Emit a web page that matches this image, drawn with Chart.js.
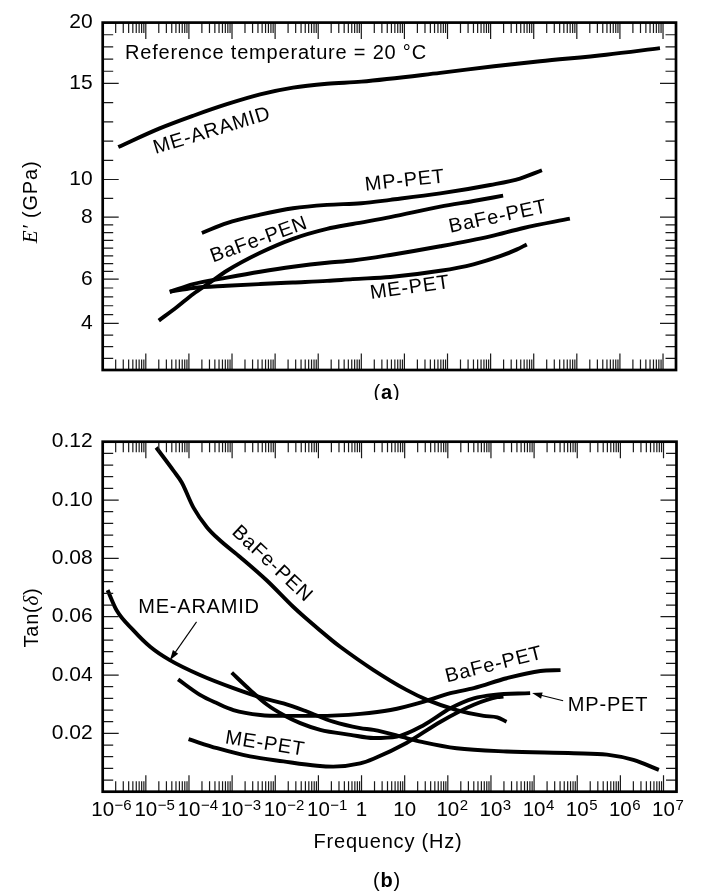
<!DOCTYPE html>
<html><head><meta charset="utf-8">
<script src="https://cdn.jsdelivr.net/npm/chart.js@4.4.1/dist/chart.umd.min.js"></script>
<style>
html,body{margin:0;padding:0;background:#fff;}
#wrap{position:relative;width:704px;height:891px;overflow:hidden;}
canvas{position:absolute;left:0;}
#cTop{top:0;}
#cBot{top:400px;}
</style></head><body>
<div id="wrap"><canvas id="cTop" width="704" height="400"></canvas><canvas id="cBot" width="704" height="491"></canvas></div>
<script>
// ---------------- data ----------------
const F_TICKS = [1e-6,1e-5,1e-4,1e-3,1e-2,1e-1,1,10,1e2,1e3,1e4,1e5,1e6,1e7];
const F_TICK_BASE = ['10','10','10','10','10','10','1','10','10','10','10','10','10','10'];
const F_TICK_EXP  = ['−6','−5','−4','−3','−2','−1','','','2','3','4','5','6','7'];
const E_TICKS = [4,6,8,10,15,20];
const E_MINOR = [2.5,3,3.5,4.4,4.8,5.2,5.6,6.25,6.5,6.75,7,7.25,7.5,7.75,9,11,12,13,14,16,17,18,19];
const TAN_TICKS = [0.02,0.04,0.06,0.08,0.10,0.12];
const TAN_MINOR = [0.004,0.008,0.012,0.016,0.024,0.028,0.032,0.036,0.044,0.048,0.052,0.056,0.064,0.068,0.072,0.076,0.084,0.088,0.092,0.096,0.104,0.108,0.112,0.116];

// (a) storage modulus E' (GPa)
const E_ME_ARAMID_F = [2.3e-6,2.1e-5,1.26e-4,7.6e-4,4.5e-3,0.026,0.16,1,68,1.2e3,1.4e4,4.8e5,8.5e6];
const E_ME_ARAMID   = [11.69,12.66,13.32,13.92,14.43,14.78,14.98,15.15,15.87,16.41,16.82,17.36,17.9];
const E_MP_PET_F = [2.0e-4,7.6e-4,4.5e-3,0.026,0.16,1,4.7,68,980,4.8e3,1.55e4];
const E_MP_PET   = [7.49,7.81,8.13,8.47,8.65,8.74,8.92,9.26,9.71,10.05,10.48];
const E_BAFE_PEN_F = [2.0e-5,5.2e-5,1.26e-4,3.1e-4,7.6e-4,4.5e-3,0.026,0.16,0.63,4.7,68,400,1.95e3];
const E_BAFE_PEN   = [4.13,4.73,5.33,5.85,6.27,6.85,7.30,7.62,7.78,8.0,8.56,8.86,9.14];
const E_BAFE_PET_F = [3.6e-5,1.26e-4,7.6e-4,4.5e-3,0.026,0.16,0.63,4.7,68,980,5.8e3,6.9e4];
const E_BAFE_PET   = [5.43,5.78,6.05,6.24,6.40,6.53,6.60,6.78,7.06,7.38,7.65,7.95];
const E_ME_PET_F = [3.6e-5,1.26e-4,7.6e-4,4.5e-3,0.026,0.16,0.63,4.7,68,400,1.66e3,4.1e3,6.9e3];
const E_ME_PET   = [5.43,5.60,5.70,5.78,5.85,5.92,6.0,6.07,6.27,6.48,6.74,6.96,7.12];

// (b) loss tangent tan(delta)
const T_BAFE_PEN_F = [1.74e-5,4.4e-5,6.8e-5,1.26e-4,2.6e-4,5.2e-4,1.55e-3,6.3e-3,0.026,0.049,0.21,0.32,1.9,11,33,160,680,1.4e3,2.3e3];
const T_BAFE_PEN   = [0.118,0.110,0.106,0.0975,0.0907,0.0862,0.0804,0.0725,0.0634,0.0597,0.0518,0.0497,0.0417,0.0349,0.0315,0.028,0.026,0.0255,0.024];
const T_ME_ARAMID_F = [1.3e-6,2.1e-6,5.1e-6,1.26e-5,3.6e-5,1.8e-4,1.07e-3,5.4e-3,0.0155,0.054,0.22,0.93,1.9,11,28,160,2.3e3,8.3e4,4.9e5,2.0e6,7.8e6];
const T_ME_ARAMID   = [0.0691,0.0622,0.0554,0.0497,0.0451,0.040,0.0355,0.0320,0.0303,0.0275,0.0240,0.0218,0.0212,0.0184,0.0169,0.0149,0.0138,0.0132,0.0127,0.0109,0.0075];
const T_BAFE_PET_F = [5.6e-5,1.8e-4,4.5e-4,1.07e-3,4.5e-3,0.0155,0.093,0.93,4.7,28,115,400,2.3e3,1.4e4,4.1e4];
const T_BAFE_PET   = [0.0385,0.0332,0.0303,0.0280,0.0263,0.026,0.026,0.0267,0.0280,0.0309,0.0338,0.0355,0.0389,0.0414,0.0417];
const T_MP_PET_F = [9.8e-4,2.6e-3,6.5e-3,0.0155,0.038,0.11,0.55,1.9,6.6,28,115,400,1.15e3,8.1e3];
const T_MP_PET   = [0.0408,0.0349,0.0298,0.0263,0.0235,0.0212,0.0195,0.0184,0.0189,0.0229,0.0286,0.0320,0.0332,0.0338];
const T_ME_PET_F = [9.8e-5,4.5e-4,2.6e-3,0.0155,0.093,0.22,0.93,1.9,11,68,400,1.4e3,1.95e3];
const T_ME_PET   = [0.0180,0.0149,0.0121,0.0104,0.0089,0.0086,0.0097,0.0113,0.0167,0.0240,0.0298,0.0324,0.0326];

// --------------- axis layout of the redrawn E' axis (value -> fraction of axis height) ---------------
const E_AXIS_FRAC = [[2,0],[4,0.134],[6,0.2615],[8,0.44],[10,0.5483],[15,0.8249],[20,1]];
function eToFrac(v){
  const a = E_AXIS_FRAC;
  let i = 1;
  while (i < a.length - 1 && v > a[i][0]) i++;
  const [v0,f0] = a[i-1], [v1,f1] = a[i];
  return f0 + (v - v0) * (f1 - f0) / (v1 - v0);
}
function fracToE(f){
  const a = E_AXIS_FRAC;
  let i = 1;
  while (i < a.length - 1 && f > a[i][1]) i++;
  const [v0,f0] = a[i-1], [v1,f1] = a[i];
  return v0 + (f - f0) * (v1 - v0) / (f1 - f0);
}
class PiecewiseScale extends Chart.LinearScale {
  static id = 'piecewise';
  getPixelForValue(value){
    if (value === null || value === undefined || isNaN(value)) return NaN;
    return this.getPixelForDecimal(eToFrac(value));
  }
  getValueForPixel(pixel){ return fracToE(this.getDecimalForPixel(pixel)); }
}
Chart.register(PiecewiseScale);

// --------------- styling ---------------
const SANS = "'Liberation Sans', Arial, Helvetica, sans-serif";
const SERIF = "'Liberation Serif', 'Times New Roman', serif";
Chart.defaults.font.family = SANS;
Chart.defaults.font.size = 21;
Chart.defaults.color = '#000';

function mkSets(list){
  return list.map(([name, f, v]) => ({
    label: name,
    data: f.map((fx, i) => ({x: fx, y: v[i]})),
    borderColor: '#000', borderWidth: 3.9, pointRadius: 0, fill: false,
    cubicInterpolationMode: 'monotone', borderCapStyle: 'butt', borderJoinStyle: 'round'
  }));
}

function frameTicks(yMajor, yMinor){
  return {
    id: 'frameTicks',
    afterDatasetsDraw(chart){
      const {ctx, chartArea: a} = chart;
      const x = chart.scales.x, y = chart.scales.y;
      ctx.save();
      ctx.strokeStyle = '#1a1a1a'; ctx.lineWidth = 1.2;
      ctx.beginPath();
      for (let e = -6; e <= 7; e++) for (let m = 1; m <= 9; m++) {
        const v = m * Math.pow(10, e);
        if (v > x.max) continue;
        const px = x.getPixelForValue(v);
        const L = m === 1 ? 16.5 : 10.5;
        ctx.moveTo(px, a.bottom); ctx.lineTo(px, a.bottom - L);
        ctx.moveTo(px, a.top); ctx.lineTo(px, a.top + L);
      }
      const yt = (vals, L) => vals.forEach(v => {
        const py = y.getPixelForValue(v);
        ctx.moveTo(a.left, py); ctx.lineTo(a.left + L, py);
        ctx.moveTo(a.right, py); ctx.lineTo(a.right - L, py);
      });
      yt(yMajor, 16); yt(yMinor, 10.5);
      ctx.stroke();
      ctx.lineWidth = 2.7; ctx.strokeStyle = '#000';
      ctx.strokeRect(a.left, a.top, a.right - a.left, a.bottom - a.top);
      ctx.restore();
    }
  };
}

function txt(ctx, s, x, y, rot, opt){
  opt = opt || {};
  ctx.save();
  ctx.translate(x, y); ctx.rotate((rot || 0) * Math.PI / 180);
  ctx.font = opt.font || ('20px ' + SANS);
  try { ctx.letterSpacing = opt.ls || '0.8px'; } catch(e) {}
  ctx.textAlign = opt.align || 'center';
  ctx.textBaseline = opt.base || 'middle';
  ctx.fillStyle = '#000';
  ctx.fillText(s, 0, 0);
  ctx.restore();
}
function runs(ctx, parts, cx, cy, rot){
  ctx.save();
  ctx.translate(cx, cy); ctx.rotate((rot || 0) * Math.PI / 180);
  try { ctx.letterSpacing = '0.8px'; } catch(e) {}
  ctx.textBaseline = 'alphabetic'; ctx.textAlign = 'left'; ctx.fillStyle = '#000';
  let w = 0;
  parts.forEach(p => { ctx.font = p.f; p.w = ctx.measureText(p.t).width; w += p.w; });
  let xx = -w / 2;
  parts.forEach(p => { ctx.font = p.f; ctx.fillText(p.t, xx, 7); xx += p.w; });
  ctx.restore();
}
function arrow(ctx, tx, ty, dx, dy){
  const sx = tx + dx, sy = ty + dy;
  const ang = Math.atan2(ty - sy, tx - sx);
  ctx.save();
  ctx.strokeStyle = '#000'; ctx.fillStyle = '#000'; ctx.lineWidth = 1.1;
  ctx.beginPath(); ctx.moveTo(sx, sy); ctx.lineTo(tx - 7 * Math.cos(ang), ty - 7 * Math.sin(ang)); ctx.stroke();
  ctx.beginPath();
  ctx.moveTo(tx, ty);
  ctx.lineTo(tx - 10 * Math.cos(ang) + 3.2 * Math.sin(ang), ty - 10 * Math.sin(ang) - 3.2 * Math.cos(ang));
  ctx.lineTo(tx - 10 * Math.cos(ang) - 3.2 * Math.sin(ang), ty - 10 * Math.sin(ang) + 3.2 * Math.cos(ang));
  ctx.closePath(); ctx.fill();
  ctx.restore();
}
// x tick labels with real superscript exponents, placed through the x scale
function freqLabels(chart, baseY){
  const ctx = chart.ctx, x = chart.scales.x;
  ctx.save();
  ctx.fillStyle = '#000'; ctx.textBaseline = 'alphabetic'; ctx.textAlign = 'left';
  F_TICKS.forEach((v, i) => {
    const px = x.getPixelForValue(v);
    ctx.font = '20.5px ' + SANS;
    const wb = ctx.measureText(F_TICK_BASE[i]).width;
    const left = px - wb / 2;
    ctx.fillText(F_TICK_BASE[i], left, baseY);
    if (F_TICK_EXP[i]) {
      ctx.font = '15px ' + SANS;
      ctx.fillText(F_TICK_EXP[i], left + wb + 0.5, baseY - 6);
    }
  });
  ctx.restore();
}

const F20 = '20px ' + SANS;
const FB = 'bold 20px ' + SANS;
const FI = 'italic 21px ' + SERIF;

// --------------- (a) ---------------
new Chart(document.getElementById('cTop'), {
  type: 'line',
  data: { datasets: mkSets([
    ['ME-ARAMID', E_ME_ARAMID_F, E_ME_ARAMID],
    ['MP-PET', E_MP_PET_F, E_MP_PET],
    ['BaFe-PEN', E_BAFE_PEN_F, E_BAFE_PEN],
    ['BaFe-PET', E_BAFE_PET_F, E_BAFE_PET],
    ['ME-PET', E_ME_PET_F, E_ME_PET]
  ]) },
  options: {
    responsive: false, animation: false, devicePixelRatio: 1,
    layout: { padding: { top: 19.3, right: 28, bottom: 30, left: 0 } },
    plugins: { legend: { display: false }, tooltip: { enabled: false } },
    scales: {
      x: { type: 'logarithmic', min: 1e-6, max: 2e7,
           ticks: { display: false }, grid: { display: false, drawTicks: false }, border: { display: false },
           afterFit: s => { s.height = 0; } },
      y: { type: 'piecewise', min: 2, max: 20,
           ticks: { padding: 10, autoSkip: false, callback: v => String(v) },
           afterBuildTicks: s => { s.ticks = E_TICKS.map(v => ({ value: v })); },
           grid: { display: false, drawTicks: false }, border: { display: false },
           afterFit: s => { s.width = 102.7; } }
    }
  },
  plugins: [frameTicks(E_TICKS, E_MINOR), {
    id: 'annA',
    afterDraw(chart){
      const ctx = chart.ctx;
      txt(ctx, 'Reference temperature = 20 °C', 125, 59.3, 0, { align: 'left', base: 'alphabetic' });
      txt(ctx, 'ME-ARAMID', 212, 131, -17);
      txt(ctx, 'MP-PET', 405, 181, -6);
      txt(ctx, 'BaFe-PEN', 259, 240, -20);
      txt(ctx, 'BaFe-PET', 498, 217, -12);
      txt(ctx, 'ME-PET', 410, 288, -8);
      runs(ctx, [{ t: 'E′', f: FI }, { t: ' (GPa)', f: F20 }], 29.7, 202, -90);
      runs(ctx, [{ t: '(', f: F20 }, { t: 'a', f: FB }, { t: ')', f: F20 }], 387, 392, 0);
    }
  }]
});

// --------------- (b) ---------------
new Chart(document.getElementById('cBot'), {
  type: 'line',
  data: { datasets: mkSets([
    ['BaFe-PEN', T_BAFE_PEN_F, T_BAFE_PEN],
    ['ME-ARAMID', T_ME_ARAMID_F, T_ME_ARAMID],
    ['BaFe-PET', T_BAFE_PET_F, T_BAFE_PET],
    ['MP-PET', T_MP_PET_F, T_MP_PET],
    ['ME-PET', T_ME_PET_F, T_ME_PET]
  ]) },
  options: {
    responsive: false, animation: false, devicePixelRatio: 1,
    layout: { padding: { top: 41.7, right: 27.5, bottom: 0, left: 0 } },
    plugins: { legend: { display: false }, tooltip: { enabled: false } },
    scales: {
      x: { type: 'logarithmic', min: 1e-6, max: 2e7,
           ticks: { display: false },
           afterBuildTicks: s => { s.ticks = F_TICKS.map(v => ({ value: v })); },
           grid: { display: false, drawTicks: false }, border: { display: false },
           afterFit: s => { s.height = 99.3; } },
      y: { type: 'linear', min: 0, max: 0.12,
           ticks: { padding: 10, autoSkip: false, callback: v => Number(v).toFixed(2) },
           afterBuildTicks: s => { s.ticks = TAN_TICKS.map(v => ({ value: v })); },
           grid: { display: false, drawTicks: false }, border: { display: false },
           afterFit: s => { s.width = 102.7; } }
    }
  },
  plugins: [frameTicks(TAN_TICKS, TAN_MINOR), {
    id: 'annB',
    afterDraw(chart){
      const ctx = chart.ctx, x = chart.scales.x, y = chart.scales.y;
      freqLabels(chart, 415.5);
      txt(ctx, 'BaFe-PEN', 272, 164, 43);
      txt(ctx, 'ME-ARAMID', 199, 207, 0);
      txt(ctx, 'BaFe-PET', 494, 265, -14);
      txt(ctx, 'MP-PET', 608, 305, 0);
      txt(ctx, 'ME-PET', 265, 344, 9);
      arrow(ctx, x.getPixelForValue(3.6e-5), y.getPixelForValue(0.0451), 26.7, -38.3);
      arrow(ctx, x.getPixelForValue(8.1e3) + 2, y.getPixelForValue(0.0338), 31, 7.7);
      runs(ctx, [{ t: 'Tan(', f: F20 }, { t: 'δ', f: FI }, { t: ')', f: F20 }], 31, 217.5, -90);
      txt(ctx, 'Frequency (Hz)', 388, 442, 0);
      runs(ctx, [{ t: '(', f: F20 }, { t: 'b', f: FB }, { t: ')', f: F20 }], 387, 480, 0);
    }
  }]
});
</script>
</body></html>
